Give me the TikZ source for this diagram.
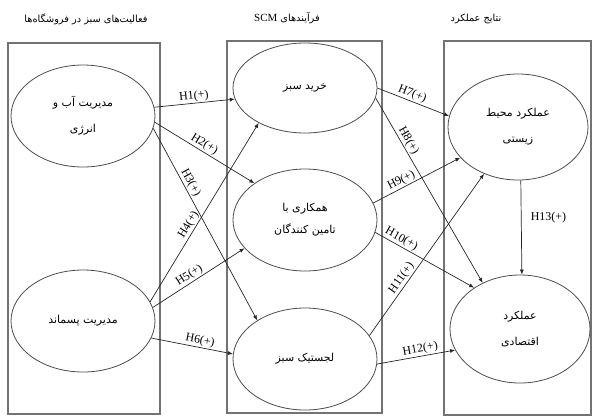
\documentclass[tikz,border=0pt]{standalone}
\usepackage{fontspec}
\setmainfont{Liberation Serif}
\newfontfamily\fa[Script=Arabic]{DejaVu Sans}
\TeXXeTstate=1
\usetikzlibrary{shapes.geometric,arrows.meta}

\tikzset{
  box/.style={draw=black!55, line width=1.2bp, inner sep=0pt},
  ell/.style={ellipse, draw=black!70, line width=0.8bp, inner sep=0pt,
    align=center, minimum width=144bp, minimum height=102bp,
    font=\fa\fontsize{11}{26}\selectfont},
  arr/.style={-{Latex[length=5bp,width=4bp]}, draw=black!85, line width=0.7bp},
  hyp/.style={font=\fontsize{12}{12}\selectfont, inner sep=1.2bp},
  ttl/.style={font=\fa\fontsize{9.8}{11}\selectfont}
}

\begin{document}
\begin{tikzpicture}[x=1bp,y=-1bp]
\useasboundingbox (0,0) rectangle (592,418);

%Boxes
\node[box, minimum width=152bp, minimum height=371bp] (bxA) at (84,228.5) {};
\node[box, minimum width=155bp, minimum height=372bp] (bxB) at (304.5,227) {};
\node[box, minimum width=147bp, minimum height=374bp] (bxC) at (517.5,228) {};

%Titles
\node[ttl] (tA) at (86,19) {\beginR فعالیت‌های سبز در فروشگاه‌ها\endR};
\node[ttl] (tB) at (287,18) {\beginR فرآیندهای \beginL{\rmfamily\fontsize{11}{11}\selectfont SCM}\endL\endR};
\node[ttl] (tC) at (476,19) {\beginR نتایج عملکرد\endR};

%Nodes
\node[ell] (W) at (83,116) {\beginR مدیریت آب و\endR\\\beginR انرژی\endR};
\node[ell] (S) at (83,321) {\beginR مدیریت پسماند\endR};
\node[ell, minimum height=90bp] (G) at (305,88) {\beginR خرید سبز\endR};
\node[ell, font=\fa\fontsize{11}{22}\selectfont] (C) at (305,220) {\beginR همکاری با\endR\\\beginR تامین کنندگان\endR};
\node[ell] (L) at (305,359) {\beginR لجستیک سبز\endR};
\node[ell, minimum width=140bp, minimum height=106bp] (E) at (518,127) {\beginR عملکرد محیط\endR\\\beginR زیستی\endR};
\node[ell, minimum width=140bp, minimum height=108bp] (P) at (520,329) {\beginR عملکرد\endR\\\beginR اقتصادی\endR};

%Lines
\draw[arr] (W.7) -- (G.189)
    node[hyp, pos=0.5, sloped, above]{H1(+)};
\draw[arr] (W.-5) -- (C.144)
    node[hyp, pos=0.46, sloped, above]{H2(+)};
\draw[arr] (W.-10) -- (L.141)
    node[hyp, pos=0.3, sloped, above]{H3(+)};
\draw[arr] (S.16) -- (G.217)
    node[hyp, pos=0.41, sloped, above]{H4(+)};
\draw[arr] (S.11) -- (C.205)
    node[hyp, pos=0.44, sloped, above]{H5(+)};
\draw[arr] (S.-14) -- (L.176)
    node[hyp, pos=0.58, sloped, above]{H6(+)};
\draw[arr] (G.0) -- (E.171)
    node[hyp, pos=0.45, sloped, above]{H7(+)};
\draw[arr] (G.-8) -- (P.129)
    node[hyp, pos=0.25, sloped, above]{H8(+)};
\draw[arr] (C.14) -- (E.208)
    node[hyp, pos=0.36, sloped, above]{H9(+)};
\draw[arr] (C.-10) -- (P.138)
    node[hyp, pos=0.23, sloped, above]{H10(+)};
\draw[arr] (L.20) -- (E.234)
    node[hyp, pos=0.33, sloped, above]{H11(+)};
\draw[arr] (L.-4) -- (P.198)
    node[hyp, pos=0.57, sloped, above]{H12(+)};
\draw[arr] (E.-87) -- (P.88)
    node[hyp, pos=0.4, right=8bp]{H13(+)};
\end{tikzpicture}
\end{document}
